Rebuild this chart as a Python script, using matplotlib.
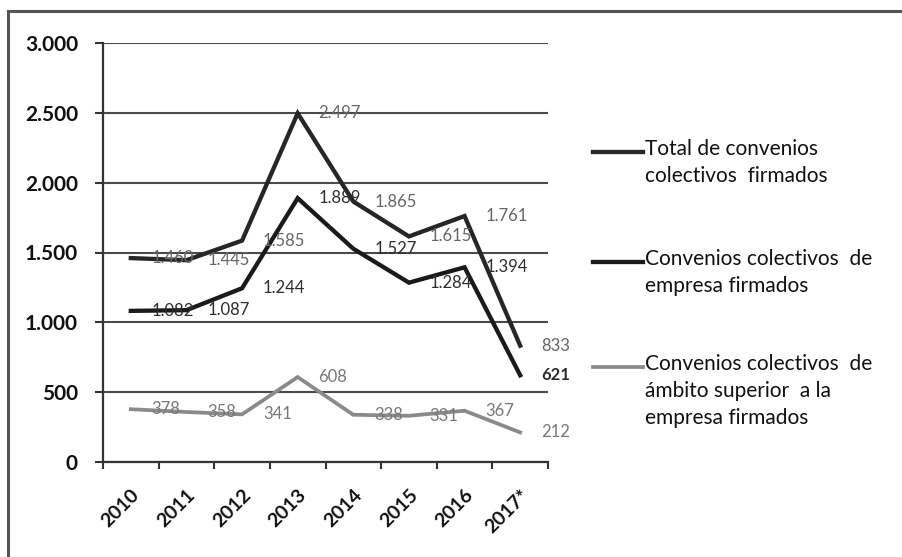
import matplotlib
matplotlib.use('Agg')
import matplotlib.pyplot as plt
import matplotlib.transforms as mtransforms
from matplotlib.lines import Line2D
import numpy as np

years = ['2010', '2011', '2012', '2013', '2014', '2015', '2016', '2017*']
total = [1460, 1445, 1585, 2497, 1865, 1615, 1761, 833]
empresa = [1082, 1087, 1244, 1889, 1527, 1284, 1394, 621]
superior = [378, 358, 341, 608, 338, 331, 367, 212]

series_names = ['Total de convenios\ncolectivos  firmados',
                'Convenios colectivos  de\nempresa firmados',
                'Convenios colectivos  de\námbito superior  a la\nempresa firmados']

plt.rcParams['font.family'] = ['Lato', 'DejaVu Sans']

W, H = 902, 557
fig = plt.figure(figsize=(W / 100, H / 100), dpi=100)
fig.patch.set_facecolor('white')


def fx(px):
    return px / W


def fy(py):
    return 1 - py / H


# plot area in pixels: x 103..548, y 43..462
ax = fig.add_axes([fx(103), fy(462), fx(548 - 103), (462 - 43) / H])

x = np.arange(len(years))
line_styles = [
    (total, '#262626', 3.1, '#666666'),
    (empresa, '#1a1a1a', 3.1, '#2e2e2e'),
    (superior, '#8a8a8a', 2.7, '#787878'),
]

for values, color, lw, label_color in line_styles:
    ax.plot(x, values, color=color, lw=lw, solid_joinstyle='miter', zorder=3)
    for i, v in enumerate(values):
        text = f'{v:,}'.replace(',', '.')
        weight = 'bold' if (values is empresa and i == len(values) - 1) else 'normal'
        ax.annotate(text, (x[i], v), xytext=(15, 0), textcoords='offset points',
                    ha='left', va='center', fontsize=12, color=label_color,
                    fontweight=weight, zorder=4)

ax.set_xlim(-0.5, len(years) - 0.5)
ax.set_ylim(0, 3000)
ax.set_yticks(np.arange(0, 3001, 500))
ax.set_yticklabels([f'{t:,}'.replace(',', '.') for t in range(0, 3001, 500)],
                   fontsize=15, fontweight='bold', color='#111111')
ax.grid(axis='y', color='#4a4a4a', lw=1.5)
ax.set_axisbelow(True)

for side in ['top', 'right']:
    ax.spines[side].set_visible(False)
for side in ['left', 'bottom']:
    ax.spines[side].set_color('#333333')
    ax.spines[side].set_linewidth(1.6)
ax.tick_params(axis='y', length=6, width=1.5, color='#333333', pad=12)

# category boundaries as tick marks, labels at category centres
ax.set_xticks(np.arange(-0.5, len(years)), minor=True)
ax.set_xticks(x)
ax.tick_params(axis='x', which='minor', length=5, width=1.5, color='#333333')
ax.tick_params(axis='x', which='major', length=0, pad=22)
ax.set_xticklabels(years, rotation=45, ha='right', va='center',
                   rotation_mode='anchor', fontsize=14, fontweight='bold', color='#111111')
shift = mtransforms.ScaledTranslation(6 / 100, 0, fig.dpi_scale_trans)
for lbl in ax.get_xticklabels():
    lbl.set_transform(lbl.get_transform() + shift)

# legend drawn by hand so the line sits next to the first text row
legend_rows = [152, 262, 367]
for (values, color, lw, _), name, row in zip(line_styles, series_names, legend_rows):
    fig.add_artist(Line2D([fx(593), fx(643)], [fy(row), fy(row)], color=color, lw=lw))
    fig.text(fx(645), fy(row - 13), name, ha='left', va='top', fontsize=15,
             color='#111111', linespacing=1.45)

# frame around the chart
fig.add_artist(Line2D([fx(8), fx(8)], [fy(11), 0], color='#555555', lw=2.2))
fig.add_artist(Line2D([fx(8), 1], [fy(11), fy(11)], color='#555555', lw=2.2))

fig.savefig('out.png', dpi=100)
